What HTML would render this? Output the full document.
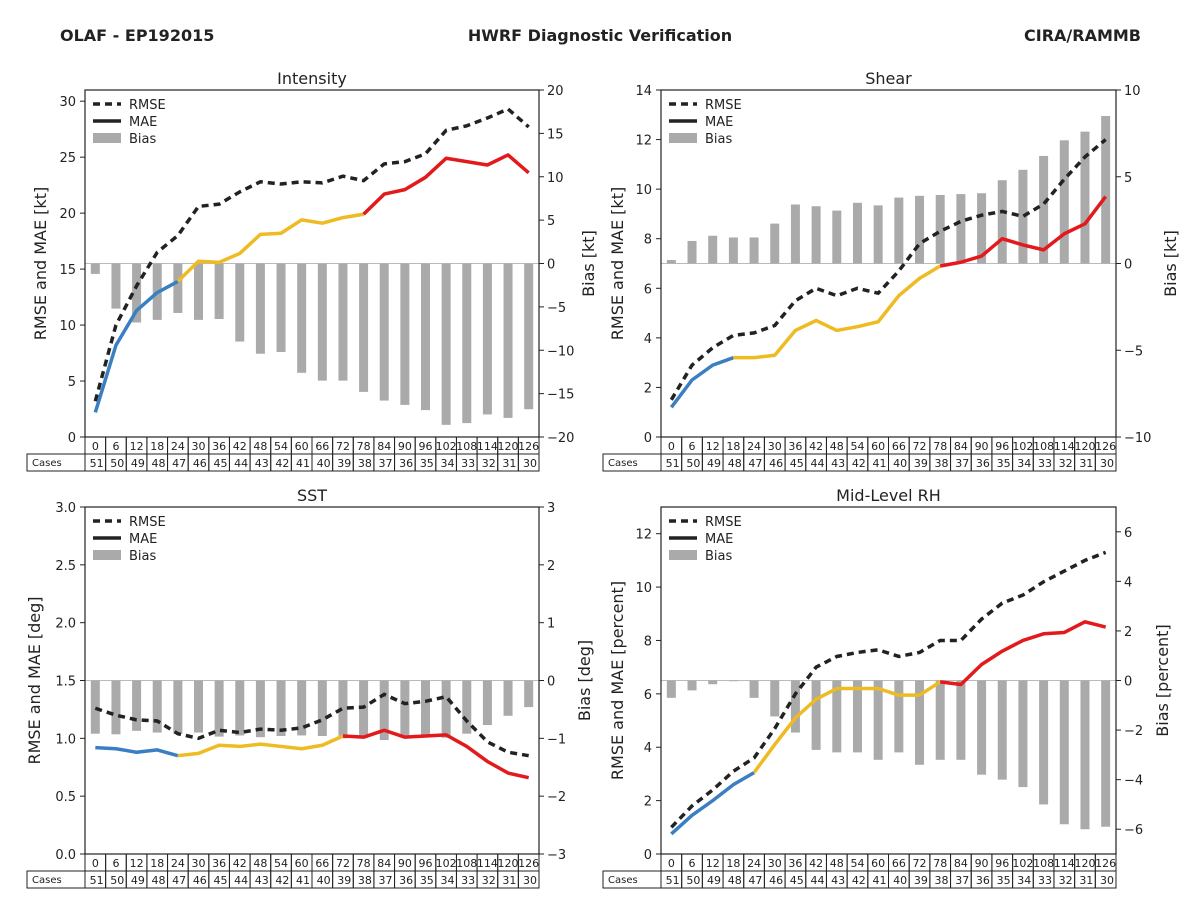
<!DOCTYPE html>
<html><head><meta charset="utf-8"><style>
body{margin:0;background:#fff;}
svg text{font-family:"DejaVu Sans","Liberation Sans",sans-serif;fill:#222;}
</style></head><body>
<svg id="chart" width="1200" height="900" xmlns="http://www.w3.org/2000/svg">
<text x="60" y="41" font-size="16" font-weight="bold">OLAF - EP192015</text>
<text x="600" y="41" font-size="16" font-weight="bold" text-anchor="middle">HWRF Diagnostic Verification</text>
<text x="1141" y="41" font-size="16" font-weight="bold" text-anchor="end">CIRA/RAMMB</text>
</svg>
<script>
const hours=[0,6,12,18,24,30,36,42,48,54,60,66,72,78,84,90,96,102,108,114,120,126];
const cases=[51,50,49,48,47,46,45,44,43,42,41,40,39,38,37,36,35,34,33,32,31,30];
const intRmse=[3.2,10,13.5,16.5,18,20.6,20.8,21.9,22.8,22.6,22.8,22.7,23.3,22.9,24.4,24.6,25.3,27.4,27.8,28.5,29.3,27.7];
const intMae=[2.2,8.2,11.3,12.9,13.9,15.7,15.6,16.4,18.1,18.2,19.4,19.1,19.6,19.9,21.7,22.1,23.2,24.9,24.6,24.3,25.2,23.6];
const intBias=[-1.2,-5.2,-6.8,-6.5,-5.7,-6.5,-6.4,-9,-10.4,-10.2,-12.6,-13.5,-13.5,-14.8,-15.8,-16.3,-16.9,-18.6,-18.4,-17.4,-17.8,-16.8];
const shRmse=[1.5,2.9,3.6,4.1,4.2,4.5,5.5,6.0,5.7,6.0,5.8,6.7,7.8,8.3,8.7,8.95,9.1,8.9,9.4,10.4,11.3,12.0];
const shMae=[1.2,2.3,2.9,3.2,3.2,3.3,4.3,4.7,4.3,4.45,4.65,5.7,6.4,6.9,7.05,7.3,8.0,7.75,7.55,8.2,8.6,9.7];
const shBias=[0.2,1.3,1.6,1.5,1.5,2.3,3.4,3.3,3.05,3.5,3.35,3.8,3.9,3.95,4.0,4.05,4.8,5.4,6.2,7.1,7.6,8.5];
const sstRmse=[1.26,1.2,1.16,1.15,1.04,1.0,1.07,1.05,1.08,1.07,1.09,1.16,1.26,1.27,1.38,1.3,1.32,1.36,1.15,0.97,0.88,0.85];
const sstMae=[0.92,0.91,0.88,0.9,0.85,0.87,0.94,0.93,0.95,0.93,0.91,0.94,1.02,1.01,1.07,1.01,1.02,1.03,0.93,0.8,0.7,0.66];
const sstBias=[-0.92,-0.93,-0.87,-0.9,-0.92,-0.9,-0.97,-0.95,-0.98,-0.96,-0.95,-0.96,-1.0,-0.99,-1.03,-0.97,-0.97,-0.99,-0.92,-0.77,-0.61,-0.46];
const rhRmse=[1.0,1.8,2.4,3.1,3.6,4.7,6.0,7.0,7.4,7.55,7.65,7.4,7.55,8.0,8.0,8.8,9.4,9.7,10.2,10.6,11.0,11.3];
const rhMae=[0.75,1.45,2.0,2.6,3.05,4.1,5.1,5.8,6.2,6.2,6.2,5.95,5.95,6.45,6.35,7.1,7.6,8.0,8.25,8.3,8.7,8.5];
const rhBias=[-0.7,-0.4,-0.15,-0.03,-0.7,-1.45,-2.1,-2.8,-2.9,-2.9,-3.2,-2.9,-3.4,-3.2,-3.2,-3.8,-4.0,-4.3,-5.0,-5.8,-6.0,-5.9];

const NS="http://www.w3.org/2000/svg";
const svg=document.getElementById('chart');
function mk(tag,attrs,parent,txt){const e=document.createElementNS(NS,tag);for(const k in attrs)e.setAttribute(k,attrs[k]);if(txt!==undefined)e.textContent=txt;(parent||svg).appendChild(e);return e;}

const panels=[
 {key:'intensity',title:'Intensity',x0:85,x1:539,y0:90,y1:437,lmin:0,lmax:31,rmin:-20,rmax:20,lt:[0,5,10,15,20,25,30],ltl:['0','5','10','15','20','25','30'],rt:[-20,-15,-10,-5,0,5,10,15,20],yl:'RMSE and MAE [kt]',yr:'Bias [kt]',rmse:intRmse,mae:intMae,bias:intBias,b1:4,b2:13,lx:46,rx:594},
 {key:'shear',title:'Shear',x0:661,x1:1116,y0:90,y1:437,lmin:0,lmax:14,rmin:-10,rmax:10,lt:[0,2,4,6,8,10,12,14],ltl:['0','2','4','6','8','10','12','14'],rt:[-10,-5,0,5,10],yl:'RMSE and MAE [kt]',yr:'Bias [kt]',rmse:shRmse,mae:shMae,bias:shBias,b1:3,b2:13,lx:623,rx:1176},
 {key:'sst',title:'SST',x0:85,x1:539,y0:507,y1:854,lmin:0,lmax:3,rmin:-3,rmax:3,lt:[0,0.5,1,1.5,2,2.5,3],ltl:['0.0','0.5','1.0','1.5','2.0','2.5','3.0'],rt:[-3,-2,-1,0,1,2,3],yl:'RMSE and MAE [deg]',yr:'Bias [deg]',rmse:sstRmse,mae:sstMae,bias:sstBias,b1:4,b2:12,lx:40,rx:590},
 {key:'rh',title:'Mid-Level RH',x0:661,x1:1116,y0:507,y1:854,lmin:0,lmax:13,rmin:-7,rmax:7,lt:[0,2,4,6,8,10,12],ltl:['0','2','4','6','8','10','12'],rt:[-6,-4,-2,0,2,4,6],yl:'RMSE and MAE [percent]',yr:'Bias [percent]',rmse:rhRmse,mae:rhMae,bias:rhBias,b1:4,b2:13,lx:623,rx:1168}
];

panels.forEach(p=>{
 const g=mk('g',{});
 
 
 const n=hours.length,cw=(p.x1-p.x0)/n;
 const xs=i=>p.x0+cw*(i+0.5);
 const yL=v=>p.y1-(v-p.lmin)/(p.lmax-p.lmin)*(p.y1-p.y0);
 const yR=v=>p.y1-(v-p.rmin)/(p.rmax-p.rmin)*(p.y1-p.y0);
 const t=mk('text',{x:(p.x0+p.x1)/2,y:p.y0-6,'font-size':16,'text-anchor':'middle'},g,p.title);
 
 // bias bars
 const z=yR(0);
 mk('line',{x1:p.x0,x2:p.x1,y1:z,y2:z,stroke:'#bbb','stroke-width':1},g);
 p.bias.forEach((b,i)=>{const y=yR(b);const r=mk('rect',{x:xs(i)-4.5,y:Math.min(y,z),width:9,height:Math.abs(y-z),fill:'#aaa'},g);
  });
 // rmse
 const rp=p.rmse.map((v,i)=>xs(i)+','+yL(v)).join(' ');
 const rl=mk('polyline',{points:rp,fill:'none',stroke:'#222','stroke-width':3.5,'stroke-dasharray':'7,5'},g);
 
 // mae segments
 const segs=[[0,p.b1,'#3a7fc1'],[p.b1,p.b2,'#eebb22'],[p.b2,n-1,'#e31a1c']];
 segs.forEach(s=>{const pts=[];for(let i=s[0];i<=s[1];i++)pts.push(xs(i)+','+yL(p.mae[i]));
  const l=mk('polyline',{points:pts.join(' '),fill:'none',stroke:s[2],'stroke-width':3.5,'stroke-linejoin':'round'},g);
  });
 // frame
 mk('rect',{x:p.x0,y:p.y0,width:p.x1-p.x0,height:p.y1-p.y0,fill:'none',stroke:'#222','stroke-width':1.2},g);
 // left ticks
 p.lt.forEach((v,i)=>{const y=yL(v);mk('line',{x1:p.x0-5,x2:p.x0,y1:y,y2:y,stroke:'#222'},g);
  const tt=mk('text',{x:p.x0-9,y:y+5,'font-size':13,'text-anchor':'end'},g,p.ltl[i]);
  });
 p.rt.forEach(v=>{const y=yR(v);mk('line',{x1:p.x1,x2:p.x1+5,y1:y,y2:y,stroke:'#222'},g);
  const tt=mk('text',{x:p.x1+8,y:y+5,'font-size':13},g,(v<0?'\u2212'+(-v):''+v));
  });
 const cy=(p.y0+p.y1)/2;
 const a1=mk('text',{x:p.lx,y:cy,'font-size':16,'text-anchor':'middle',transform:`rotate(-90 ${p.lx} ${cy})`},g,p.yl);
 
 const a2=mk('text',{x:p.rx,y:cy,'font-size':16,'text-anchor':'middle',transform:`rotate(-90 ${p.rx} ${cy})`},g,p.yr);
 
 // legend
 const lx=p.x0+8,ly=p.y0+14;
 mk('line',{x1:lx,x2:lx+28,y1:ly,y2:ly,stroke:'#222','stroke-width':3.5,'stroke-dasharray':'7,5'},g);
 mk('text',{x:lx+36,y:ly+5,'font-size':13},g,'RMSE');
 mk('line',{x1:lx,x2:lx+28,y1:ly+17,y2:ly+17,stroke:'#222','stroke-width':3.5},g);
 mk('text',{x:lx+36,y:ly+22,'font-size':13},g,'MAE');
 mk('rect',{x:lx,y:ly+29,width:28,height:10,fill:'#aaa'},g);
 mk('text',{x:lx+36,y:ly+39,'font-size':13},g,'Bias');
 // table
 const ty=p.y1,rh=17;
 hours.forEach((h,i)=>{const cx=p.x0+cw*i;
  mk('rect',{x:cx,y:ty,width:cw,height:rh,fill:'none',stroke:'#222','stroke-width':1},g);
  const ht=mk('text',{x:cx+cw/2,y:ty+13,'font-size':11,'text-anchor':'middle'},g,''+h);
  
  mk('rect',{x:cx,y:ty+rh,width:cw,height:rh,fill:'none',stroke:'#222','stroke-width':1},g);
  const ct=mk('text',{x:cx+cw-2,y:ty+rh+13,'font-size':11,'text-anchor':'end'},g,''+cases[i]);
  });
 mk('rect',{x:p.x0-58,y:ty+rh,width:58,height:rh,fill:'none',stroke:'#222','stroke-width':1},g);
 const cl=mk('text',{x:p.x0-53,y:ty+rh+12,'font-size':10},g,'Cases');
 
});
</script>
</body></html>
